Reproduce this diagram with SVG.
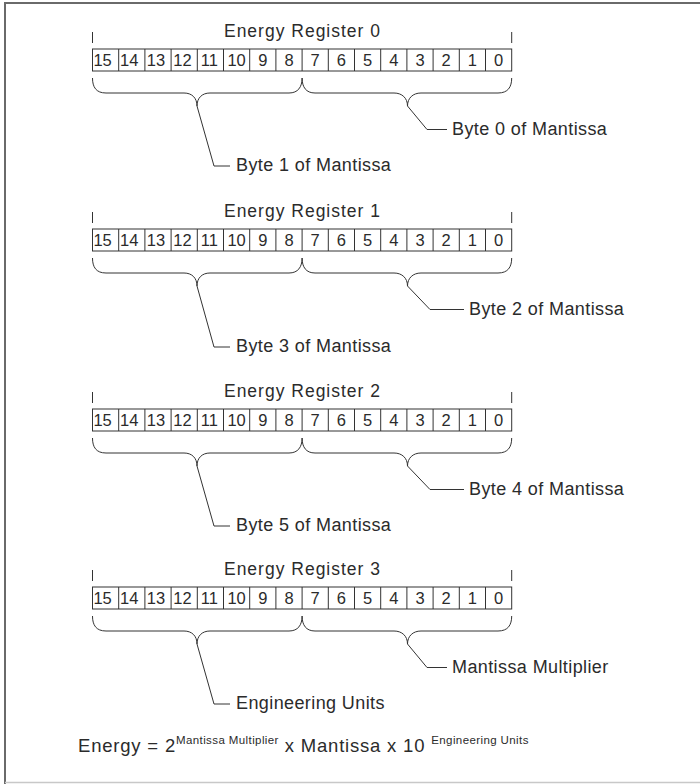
<svg xmlns="http://www.w3.org/2000/svg" xmlns:xlink="http://www.w3.org/1999/xlink" width="700" height="784" viewBox="0 0 700 784">
<style>
.t{font-family:"Liberation Sans",Arial,sans-serif;fill:#2b2b2b}
.title{font-size:17.5px;letter-spacing:1px;text-anchor:middle}
.lbl{font-size:18px;letter-spacing:0.4px}
.fml{font-size:18.5px;letter-spacing:0.8px}
.num{font-size:16.5px;text-anchor:middle}
.sup{font-size:11.5px;letter-spacing:0.4px}
.cell{fill:#fff;stroke:#333;stroke-width:1}
.ln{fill:none;stroke:#333;stroke-width:1}
</style>
<defs>
<g id="reg">
<line class="ln" x1="92.5" y1="-17" x2="92.5" y2="-6"/>
<line class="ln" x1="511.7" y1="-17" x2="511.7" y2="-6"/>
<rect class="cell" x="92.5" y="0" width="419.2" height="22"/>
<path class="ln" d="M118.7,0V22M144.9,0V22M171.1,0V22M197.3,0V22M223.5,0V22M249.7,0V22M275.9,0V22M302.1,0V22M328.3,0V22M354.5,0V22M380.7,0V22M406.9,0V22M433.1,0V22M459.3,0V22M485.5,0V22"/>
<g class="t num">
<text x="102.6" y="17">15</text><text x="129.3" y="17">14</text><text x="156" y="17">13</text><text x="182.5" y="17">12</text><text x="209.3" y="17">11</text><text x="236.6" y="17">10</text><text x="262.8" y="17">9</text><text x="289" y="17">8</text><text x="315.2" y="17">7</text><text x="341.4" y="17">6</text><text x="367.6" y="17">5</text><text x="393.8" y="17">4</text><text x="420" y="17">3</text><text x="446.2" y="17">2</text><text x="472.4" y="17">1</text><text x="498.6" y="17">0</text>
</g>
<path class="ln" d="M92.5,29C92.5,38 96,44 106,44L184,44C192,44 197,49 197,57C197,49 202,44 210,44L289,44C298,44 302.1,38 302.1,29"/>
<path class="ln" d="M302.1,29C302.1,38 306,44 315,44L394,44C402,44 407.5,49 407.5,57C407.5,49 413,44 421,44L498,44C508,44 511.7,38 511.7,29"/>
</g>
</defs>
<g id="frame">
<path d="M5,784V3H700" fill="none" stroke="#6a6a6a" stroke-width="2"/>
<line x1="5" y1="782.5" x2="700" y2="782.5" stroke="#c8c8c8" stroke-width="1.5"/>
</g>
<g id="register0">
<use xlink:href="#reg" href="#reg" transform="translate(0,49)"/>
<text class="t title" x="302.5" y="37">Energy Register 0</text>
</g>
<g id="register1">
<use xlink:href="#reg" href="#reg" transform="translate(0,229)"/>
<text class="t title" x="302.5" y="217">Energy Register 1</text>
</g>
<g id="register2">
<use xlink:href="#reg" href="#reg" transform="translate(0,409)"/>
<text class="t title" x="302.5" y="397">Energy Register 2</text>
</g>
<g id="register3">
<use xlink:href="#reg" href="#reg" transform="translate(0,587)"/>
<text class="t title" x="302.5" y="575">Energy Register 3</text>
</g>
<g id="connectors" class="ln">
<path d="M407.5,106L427,129.5H447"/>
<path d="M197,106L214,166H230"/>
<path d="M407.5,286L430,309.5H464"/>
<path d="M197,286L214,347H230"/>
<path d="M407.5,466L430,489.5H464"/>
<path d="M197,466L214,526H230"/>
<path d="M407.5,644L427,667.5H447"/>
<path d="M197,644L214,704H230"/>
</g>
<g id="labels">
<text class="t lbl" x="452" y="134.5">Byte 0 of Mantissa</text>
<text class="t lbl" x="236" y="171">Byte 1 of Mantissa</text>
<text class="t lbl" x="469" y="314.5">Byte 2 of Mantissa</text>
<text class="t lbl" x="236" y="352">Byte 3 of Mantissa</text>
<text class="t lbl" x="469" y="494.5">Byte 4 of Mantissa</text>
<text class="t lbl" x="236" y="531">Byte 5 of Mantissa</text>
<text class="t lbl" x="452" y="672.5">Mantissa Multiplier</text>
<text class="t lbl" x="236" y="709">Engineering Units</text>
</g>
<g id="formula">
<text class="t fml" x="78" y="752">Energy = 2<tspan class="sup" dy="-8">Mantissa Multiplier</tspan><tspan dy="8"> x Mantissa x 10 </tspan><tspan class="sup" dy="-8">Engineering Units</tspan></text>
</g>
</svg>
